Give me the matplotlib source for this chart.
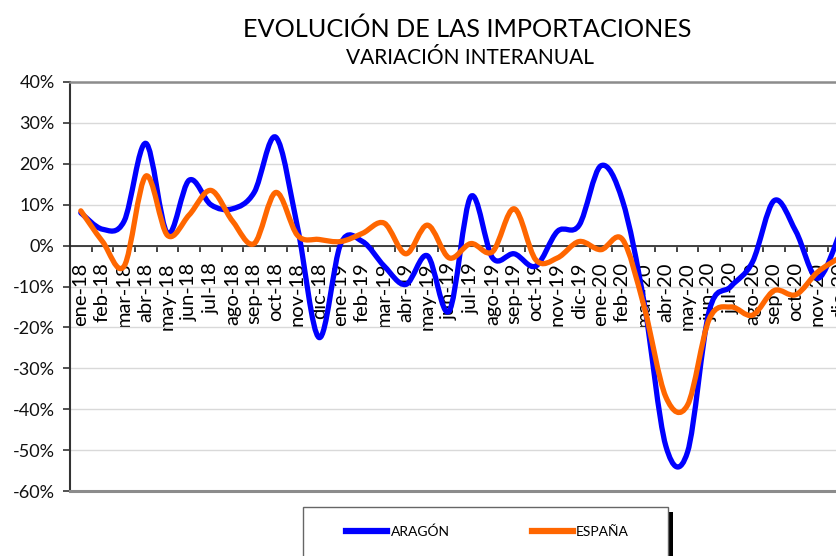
import numpy as np
import matplotlib
matplotlib.use("Agg")
import matplotlib.pyplot as plt
from matplotlib.path import Path
from matplotlib.patches import PathPatch, Rectangle
from matplotlib.lines import Line2D
from matplotlib.ticker import FuncFormatter, FixedLocator

plt.rcParams["font.family"] = ["Lato", "DejaVu Sans"]

months = ["ene", "feb", "mar", "abr", "may", "jun",
          "jul", "ago", "sep", "oct", "nov", "dic"]
years = ["18", "19", "20"]
categories = [f"{m}-{y}" for y in years for m in months]

# variación interanual (%)
aragon = [8, 4, 6, 25, 3, 16, 10, 9, 13, 26.5, 4.5, -22.5,
          0.5, 1, -5, -9.5, -2.5, -16, 12, -3, -2, -5, 3.5, 5,
          19.5, 11, -14, -49, -50.5, -16, -10, -4, 11, 3.5, -8, 2.5]
espana = [8.5, 1, -5, 17, 2.5, 7.5, 13.5, 6, 0.5, 13, 2.5, 1.5,
          1, 3, 5.5, -2, 5, -3, 0.5, -1.5, 9, -3.5, -3, 1,
          -1, 1.5, -15, -37, -39, -18, -15, -17, -11, -12, -6.5, -3]


def smooth_path(ys):
    # Excel-style smoothed line: cubic Bezier through every point
    xs = np.arange(len(ys), dtype=float)
    ys = np.asarray(ys, dtype=float)
    n = len(ys)
    verts = [(xs[0], ys[0])]
    codes = [Path.MOVETO]
    for i in range(n - 1):
        a = i - 1 if i > 0 else i
        b = i + 2 if i + 2 < n else i + 1
        c1 = (xs[i] + (xs[i + 1] - xs[a]) / 6, ys[i] + (ys[i + 1] - ys[a]) / 6)
        c2 = (xs[i + 1] - (xs[b] - xs[i]) / 6, ys[i + 1] - (ys[b] - ys[i]) / 6)
        verts += [c1, c2, (xs[i + 1], ys[i + 1])]
        codes += [Path.CURVE4] * 3
    return Path(verts, codes)


W, H = 837, 556
fig = plt.figure(figsize=(W / 100, H / 100), dpi=100)
# plot area runs past the right edge, as in the original crop
ax = fig.add_axes([70 / W, (H - 491) / H, 780 / W, 409 / H])

ax.set_xlim(-0.5, len(categories) - 0.5)
ax.set_ylim(-60, 40)

ax.yaxis.set_major_locator(FixedLocator(np.arange(-60, 41, 10)))
ax.yaxis.set_major_formatter(FuncFormatter(lambda v, p: f"{v:.0f}%"))
ax.yaxis.grid(True, color="#d9d9d9", linewidth=1)
ax.set_axisbelow(True)
ax.tick_params(axis="y", labelsize=13, length=5, width=1.2, color="#333333",
               pad=6, labelcolor="#111111")

ax.spines["bottom"].set_position(("data", 0))
ax.spines["bottom"].set_color("#222222")
ax.spines["bottom"].set_linewidth(1.2)
ax.spines["left"].set_color("#333333")
ax.spines["left"].set_linewidth(1.5)
ax.spines["top"].set_color("#8c8c8c")
ax.spines["top"].set_linewidth(1.8)
ax.spines["right"].set_visible(False)
ax.axhline(-60, color="#8c8c8c", linewidth=2.2, clip_on=False, zorder=5)

ax.set_xticks(np.arange(len(categories)))
ax.set_xticklabels(categories, rotation=90, va="top", ha="center")
ax.set_xticks(np.arange(len(categories) + 1) - 0.5, minor=True)
ax.tick_params(axis="x", which="major", length=0, labelsize=14.5, pad=12)
ax.tick_params(axis="x", which="minor", length=4.5, width=1.2,
               direction="out", color="#222222")

ax.add_patch(PathPatch(smooth_path(aragon), fill=False, edgecolor="#0000ff",
                       linewidth=3.8, capstyle="round", joinstyle="round",
                       zorder=3))
ax.add_patch(PathPatch(smooth_path(espana), fill=False, edgecolor="#ff6600",
                       linewidth=3.8, capstyle="round", joinstyle="round",
                       zorder=4))

fig.text(467 / W, (H - 29) / H, "EVOLUCIÓN DE LAS IMPORTACIONES",
         ha="center", va="center", fontsize=18.2)
fig.text(470 / W, (H - 58) / H, "VARIACIÓN INTERANUAL",
         ha="center", va="center", fontsize=15)

# legend box with shadow
fig.patches.append(Rectangle((308 / W, -0.05), 365 / W, (H - 512) / H + 0.05,
                             transform=fig.transFigure, facecolor="black",
                             edgecolor="none", zorder=1))
fig.patches.append(Rectangle((303 / W, -0.05), 365 / W, (H - 507) / H + 0.05,
                             transform=fig.transFigure, facecolor="white",
                             edgecolor="#666666", linewidth=1, zorder=2))
handles = [Line2D([], [], color="#0000ff", linewidth=4.5),
           Line2D([], [], color="#ff6600", linewidth=4.5)]
fig.legend(handles, ["ARAGÓN", "ESPAÑA"], loc="center",
           bbox_to_anchor=(487.5 / W, (H - 532) / H), ncol=2, frameon=False,
           fontsize=10, handlelength=2.95, handletextpad=0.25,
           columnspacing=5.9)

fig.savefig("out.png", dpi=100)
